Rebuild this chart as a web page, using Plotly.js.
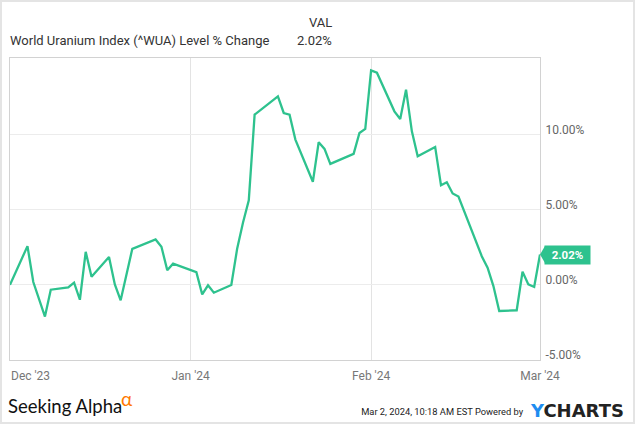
<!DOCTYPE html>
<html>
<head>
<meta charset="utf-8">
<script src="https://cdn.plot.ly/plotly-3.0.1.min.js"></script>
<style>
  html, body { margin: 0; padding: 0; background: #fff; }
  #wrap { width: 635px; height: 424px; box-sizing: border-box; border: 2px solid #e4e4e4; }
  #chart { width: 631px; height: 420px; }
</style>
</head>
<body>
<div id="wrap"><div id="chart"></div></div>
<script>
// Data: World Uranium Index (^WUA) level % change, daily
const dates = [
  '2023-12-01','2023-12-04','2023-12-05','2023-12-07','2023-12-08',
  '2023-12-11','2023-12-12','2023-12-13','2023-12-14','2023-12-15',
  '2023-12-18','2023-12-19','2023-12-20','2023-12-22',
  '2023-12-26','2023-12-27','2023-12-28','2023-12-29',
  '2024-01-02','2024-01-03','2024-01-04','2024-01-05',
  '2024-01-08','2024-01-09','2024-01-10','2024-01-11','2024-01-12',
  '2024-01-16','2024-01-17','2024-01-18','2024-01-19',
  '2024-01-22','2024-01-23','2024-01-24','2024-01-25',
  '2024-01-29','2024-01-30','2024-01-31',
  '2024-02-01','2024-02-02',
  '2024-02-05','2024-02-06','2024-02-07','2024-02-08','2024-02-09',
  '2024-02-12','2024-02-13','2024-02-14','2024-02-15','2024-02-16',
  '2024-02-20','2024-02-21','2024-02-22','2024-02-23',
  '2024-02-26','2024-02-27','2024-02-28','2024-02-29','2024-03-01'
];
const pctChange = [
  0.00, 2.58, 0.19, -2.11, -0.32,
  -0.17, 0.15, -0.99, 2.20, 0.54,
  1.85, 0.03, -1.03, 2.40,
  3.02, 2.54, 0.98, 1.41,
  0.85, -0.63, -0.03, -0.52,
  -0.01, 2.40, 4.13, 5.63, 11.33,
  12.55, 11.44, 11.33, 9.67,
  6.86, 9.49, 9.05, 8.05,
  8.72, 10.11, 10.38,
  14.27, 14.12,
  11.55, 11.04, 12.99, 10.22, 8.56,
  9.18, 6.63, 6.83, 6.08, 5.88,
  1.91, 1.14, -0.08, -1.74,
  -1.69, 0.88, 0.03, -0.14, 2.02
];
const xTickVals = ['2024-01-01', '2024-02-01', '2024-03-01'];
const xTickText = ["Jan '24", "Feb '24", "Mar '24"];
const firstTickDate = '2023-12-01';
const firstTickText = "Dec '23";
const yTickVals = [-5, 0, 5, 10];
const yTickText = ['-5.00%', '0.00%', '5.00%', '10.00%'];
const seriesName = 'World Uranium Index (^WUA) Level % Change';
const lastLabel = '2.02%';
const timestampText = 'Mar 2, 2024, 10:18 AM EST Powered by';

const green = '#2ec28e';
const font = 'Roboto, "Open Sans", sans-serif';
const lastVal = pctChange[pctChange.length - 1];

const trace = {
  x: dates, y: pctChange, type: 'scatter', mode: 'lines',
  line: { color: green, width: 2.3 }, hoverinfo: 'skip', showlegend: false
};

const layout = {
  width: 631, height: 420,
  margin: { l: 8, r: 93, t: 56, b: 62 },
  paper_bgcolor: '#fff', plot_bgcolor: '#fff',
  font: { family: font, color: '#333' },
  xaxis: {
    type: 'date', range: ['2023-12-01', '2024-03-01'],
    tickvals: xTickVals, ticktext: xTickText,
    showgrid: true, gridcolor: '#e3e3e3', gridwidth: 1,
    showline: true, linecolor: '#d2d2d2', linewidth: 1, mirror: true,
    ticks: '', zeroline: false,
    tickfont: { family: font, size: 12, color: '#777' },
    ticklabelstandoff: 5
  },
  yaxis: {
    side: 'right', range: [-5, 15.1],
    tickvals: yTickVals, ticktext: yTickText,
    showgrid: true, gridcolor: '#ececec', gridwidth: 1,
    showline: true, linecolor: '#d2d2d2', linewidth: 1, mirror: true,
    ticks: '', zeroline: false,
    tickfont: { family: font, size: 12, color: '#666' },
    ticklabelstandoff: 2, ticklabelshift: -5
  },
  shapes: [
    {
      type: 'path', xref: 'paper', yref: 'y',
      xsizemode: 'pixel', ysizemode: 'pixel', xanchor: 1, yanchor: lastVal,
      path: 'M0,0 L5,-8.5 L5,8.5 Z',
      fillcolor: green, line: { width: 0 }
    }
  ],
  annotations: [
    { xref: 'paper', yref: 'y', x: 1, y: lastVal, xanchor: 'left', yanchor: 'middle',
      xshift: 4, text: '<b>' + lastLabel + '</b>', showarrow: false,
      bgcolor: green, borderpad: 2, width: 41,
      font: { family: font, size: 11.5, color: '#fff' } },
    { xref: 'x', yref: 'paper', x: firstTickDate, y: -0.053, xanchor: 'left', yanchor: 'middle',
      text: firstTickText, showarrow: false, xshift: -1,
      font: { family: font, size: 12, color: '#777' } },
    { xref: 'paper', yref: 'paper', x: -0.004, y: 1.059, xanchor: 'left', yanchor: 'middle',
      text: seriesName, showarrow: false,
      font: { family: font, size: 13, color: '#333' } },
    { xref: 'paper', yref: 'paper', x: 0.6117, y: 1.119, xanchor: 'right', yanchor: 'middle',
      text: 'VAL', showarrow: false,
      font: { family: font, size: 13, color: '#333' } },
    { xref: 'paper', yref: 'paper', x: 0.6117, y: 1.059, xanchor: 'right', yanchor: 'middle',
      text: lastLabel, showarrow: false,
      font: { family: font, size: 13, color: '#333' } },
    { xref: 'paper', yref: 'paper', x: -0.0057, y: -0.1523, xanchor: 'left', yanchor: 'middle',
      text: 'Seeking Alpha', showarrow: false, borderpad: 0,
      font: { family: 'Lato, "Open Sans", sans-serif', size: 18.5, color: '#111' } },
    { xref: 'paper', yref: 'paper', x: 0.2068, y: -0.1285, xanchor: 'left', yanchor: 'middle',
      text: 'α', showarrow: false, borderpad: 0,
      font: { family: 'Lato, "Open Sans", sans-serif', size: 19, color: '#ff7a00' } },
    { xref: 'paper', yref: 'paper', x: 0.8168, y: -0.1689, xanchor: 'center', yanchor: 'middle',
      text: timestampText, showarrow: false, borderpad: 0,
      font: { family: font, size: 9.7, color: '#222' } },
    { xref: 'paper', yref: 'paper', x: 0.9768, y: -0.1672, xanchor: 'left', yanchor: 'middle',
      text: '<span style="color:#1e8cf0">Y</span>CHARTS', showarrow: false,
      font: { family: '"DejaVu Sans", sans-serif', size: 18, color: '#222', weight: 'bold' } }
  ]
};

Plotly.newPlot('chart', [trace], layout, { displayModeBar: false, staticPlot: true }).then(function () {
  // condense the timestamp line to the narrow width used in the reference
  document.querySelectorAll('#chart .annotation-text').forEach(function (t) {
    if (t.textContent === timestampText) {
      t.setAttribute('textLength', '162');
      t.setAttribute('lengthAdjust', 'spacingAndGlyphs');
    }
  });
});
</script>
</body>
</html>
